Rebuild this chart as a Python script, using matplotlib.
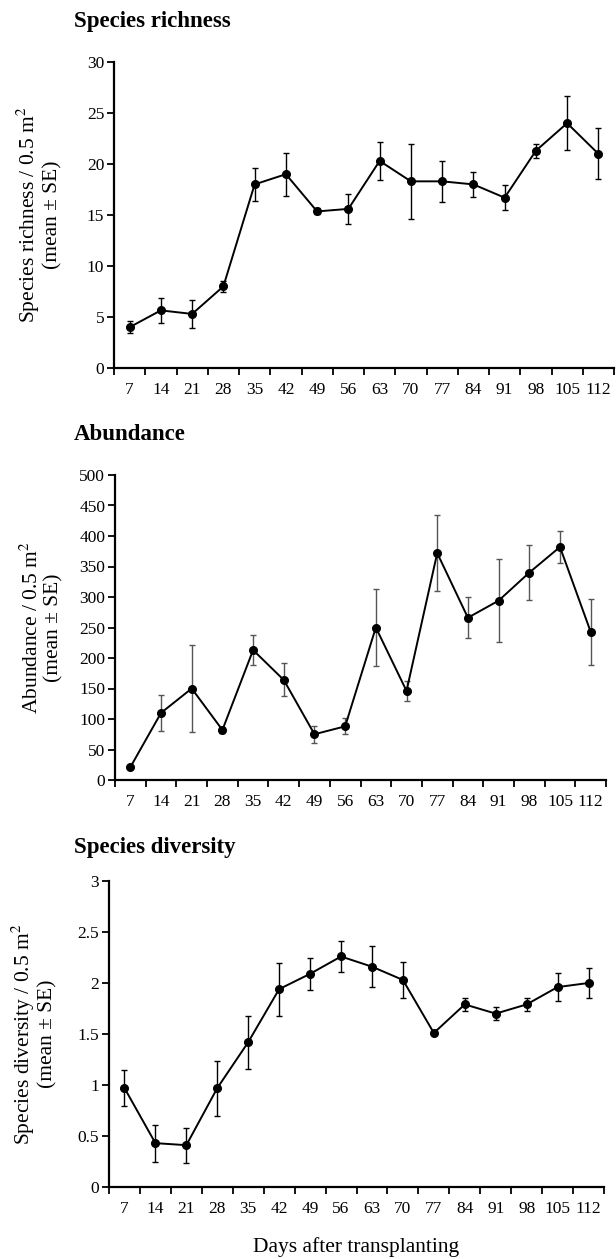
import numpy as np
import matplotlib.pyplot as plt

plt.rcParams['font.family'] = ['Liberation Serif', 'DejaVu Serif']
plt.rcParams['mathtext.fontset'] = 'stix'

days = [7, 14, 21, 28, 35, 42, 49, 56, 63, 70, 77, 84, 91, 98, 105, 112]

richness = [4.0, 5.65, 5.3, 8.0, 18.0, 19.0, 15.35, 15.6, 20.3, 18.3, 18.3, 18.0, 16.7, 21.3, 24.0, 21.0]
richness_se = [0.6, 1.25, 1.35, 0.55, 1.6, 2.1, 0.3, 1.5, 1.9, 3.7, 2.0, 1.2, 1.2, 0.7, 2.65, 2.5]

abundance = [21, 110, 150, 82, 213, 164, 75, 88, 250, 146, 372, 266, 294, 340, 382, 243]
abundance_se = [2, 30, 71, 5, 25, 27, 14, 13, 63, 17, 62, 34, 68, 45, 26, 54]

diversity = [0.97, 0.43, 0.41, 0.97, 1.42, 1.94, 2.09, 2.26, 2.16, 2.03, 1.51, 1.79, 1.70, 1.79, 1.96, 2.0]
diversity_se = [0.18, 0.18, 0.17, 0.27, 0.26, 0.26, 0.16, 0.15, 0.2, 0.18, 0.02, 0.065, 0.06, 0.06, 0.135, 0.15]

W, H = 616, 1259
fig = plt.figure(figsize=(W / 100, H / 100), dpi=100)


def px_axes(left, right, top, bottom):
    return fig.add_axes([left / W, 1 - bottom / H, (right - left) / W, (bottom - top) / H])


panels = [
    dict(box=(114, 614, 62, 368), title='Species richness', ty=22,
         y=richness, se=richness_se, ymax=30, step=5,
         ylab='Species richness / 0.5 m$^2$', ecol='black'),
    dict(box=(115, 606, 475, 780), title='Abundance', ty=435,
         y=abundance, se=abundance_se, ymax=500, step=50,
         ylab='Abundance / 0.5 m$^2$', ecol='#555555'),
    dict(box=(109, 604, 881, 1187), title='Species diversity', ty=848,
         y=diversity, se=diversity_se, ymax=3, step=0.5,
         ylab='Species diversity / 0.5 m$^2$', ecol='black'),
]

x = np.arange(len(days))
for p in panels:
    ax = px_axes(*p['box'])
    ax.errorbar(x, p['y'], yerr=p['se'], fmt='none', ecolor=p['ecol'],
                elinewidth=1.0, capsize=2.5, capthick=1.0)
    ax.plot(x, p['y'], color='black', lw=1.4, marker='o', ms=5.5)

    ax.set_xlim(-0.5, len(days) - 0.5)
    ax.set_ylim(0, p['ymax'])
    yt = np.arange(0, p['ymax'] + p['step'] / 2, p['step'])
    ax.set_yticks(yt)
    ax.set_yticklabels(['{:g}'.format(round(v, 2)) for v in yt])

    # labels sit at category centres, tick marks at category boundaries
    ax.set_xticks(x)
    ax.set_xticklabels([str(d) for d in days])
    ax.set_xticks(np.arange(-0.5, len(days)), minor=True)
    ax.tick_params(axis='x', which='major', length=0, pad=10, labelsize=12.5)
    ax.tick_params(axis='x', which='minor', length=5, width=1.3, direction='out')
    ax.tick_params(axis='y', length=5, width=1.3, direction='out', pad=2, labelsize=12.5)

    for s in ['top', 'right']:
        ax.spines[s].set_visible(False)
    for s in ['left', 'bottom']:
        ax.spines[s].set_linewidth(1.6)

    ax.set_ylabel(p['ylab'] + '\n(mean ± SE)', fontsize=15.5, linespacing=1.05)
    ax.yaxis.set_label_coords(-52 / (p['box'][1] - p['box'][0]), 0.5)

    fig.text(74 / W, 1 - p['ty'] / H, p['title'], fontsize=16.5, fontweight='bold',
             ha='left', va='center')

fig.text(356 / W, 1 - 1247 / H, 'Days after transplanting', fontsize=15.5,
         ha='center', va='center')

fig.savefig('out.png', dpi=100)
